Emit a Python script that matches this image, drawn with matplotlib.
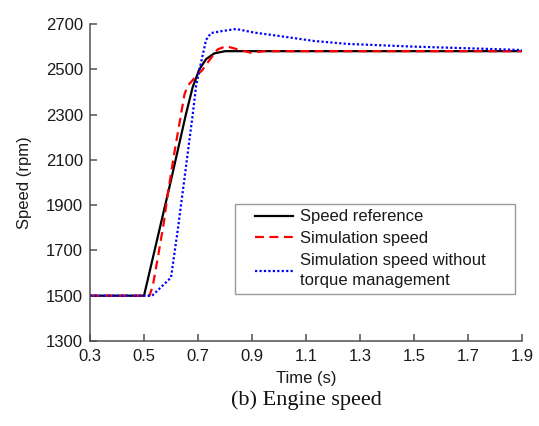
import matplotlib
matplotlib.use('Agg')
import matplotlib.pyplot as plt
from matplotlib.patches import Rectangle

# values
t_ref = [0.3, 0.5, 0.6, 0.655, 0.68, 0.705, 0.73, 0.76, 0.8, 1.9]
speed_ref = [1500, 1500, 2010, 2300, 2420, 2500, 2545, 2570, 2580, 2580]

t_sim = [0.3, 0.52, 0.532, 0.553, 0.573, 0.59, 0.615, 0.637, 0.65, 0.662, 0.693,
         0.715, 0.736, 0.773, 0.804, 0.847, 0.896, 0.944, 1.9]
speed_sim = [1500, 1500, 1540, 1680, 1820, 1965, 2150, 2300, 2390, 2427, 2470,
             2495, 2530, 2588, 2602, 2588, 2573, 2580, 2580]

t_notm = [0.3, 0.53, 0.6, 0.625, 0.649, 0.68, 0.693, 0.711, 0.73, 0.748, 0.785,
          0.841, 0.909, 1.007, 1.13, 1.254, 1.5, 1.748, 1.9]
speed_notm = [1500, 1500, 1580, 1790, 2010, 2296, 2427, 2529, 2630, 2660, 2668,
              2678, 2662, 2646, 2625, 2612, 2600, 2591, 2585]

x_ticks = [0.3, 0.5, 0.7, 0.9, 1.1, 1.3, 1.5, 1.7, 1.9]
y_ticks = [1300, 1500, 1700, 1900, 2100, 2300, 2500, 2700]

plt.rcParams['font.family'] = ['Liberation Sans', 'DejaVu Sans']

fig = plt.figure(figsize=(5.39, 4.26), dpi=100)
ax = fig.add_axes([90 / 539, 1 - 341 / 426, 432 / 539, 317 / 426])

ax.plot(t_ref, speed_ref, color='black', lw=1.6, label='Speed reference')
ax.plot(t_sim, speed_sim, color='#ff0000', lw=1.6, ls=(0, (4, 2.5)), label='Simulation speed')
ax.plot(t_notm, speed_notm, color='#0000ff', lw=1.6, ls=(0, (1, 1)),
        label='Simulation speed without\ntorque management')

ax.set_xlim(0.3, 1.9)
ax.set_ylim(1300, 2700)
ax.set_xticks(x_ticks)
ax.set_xticklabels([str(v) for v in x_ticks])
ax.set_yticks(y_ticks)

for side in ['top', 'right']:
    ax.spines[side].set_visible(False)
for side in ['left', 'bottom']:
    ax.spines[side].set_color('#505050')
    ax.spines[side].set_linewidth(1.1)
ax.tick_params(direction='in', length=5, width=1.1, color='#505050',
               labelsize=12, labelcolor='#1a1a1a')
ax.tick_params(axis='x', pad=6)
ax.tick_params(axis='y', pad=5)

ax.set_xlabel('Time (s)', fontsize=12, color='#1a1a1a', labelpad=5)
ax.set_ylabel('Speed (rpm)', fontsize=12, color='#1a1a1a', labelpad=10)

# legend frame drawn by hand, the entries sit well inside it
ax.add_patch(Rectangle((0.336, 0.148), 0.648, 0.284, transform=ax.transAxes,
                       facecolor='white', edgecolor='#999999', lw=1.0, zorder=4))
leg = ax.legend(loc='upper left', bbox_to_anchor=(0.382, 0.415),
                borderaxespad=0, borderpad=0, frameon=False,
                fontsize=12, handlelength=2.3,
                labelspacing=0.4, handletextpad=0.4)
leg.set_zorder(5)
for txt in leg.get_texts():
    txt.set_color('#1a1a1a')
    txt.set_linespacing(1.45)

fig.text(306 / 539, 1 - 400 / 426, '(b) Engine speed', family='Liberation Serif',
         fontsize=16, ha='center', va='center', color='#111111')

fig.savefig('out.png', dpi=100)
